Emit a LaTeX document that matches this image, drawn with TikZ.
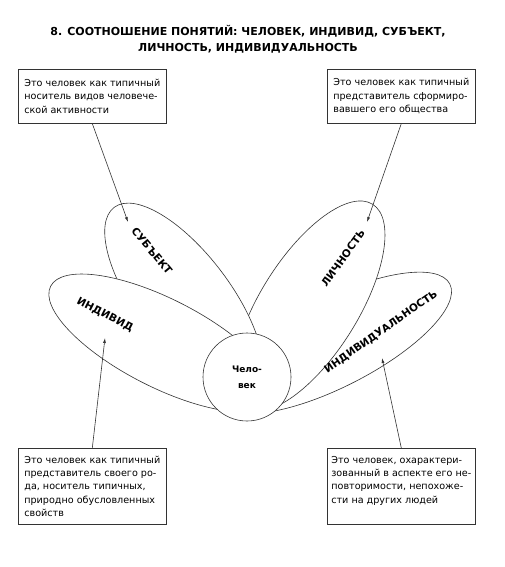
\documentclass[tikz,border=0pt]{standalone}
\usepackage{fontspec}
\setmainfont{Liberation Sans}
\newfontfamily\boxfont{DejaVu Sans}
\newfontfamily\headfont{DejaVu Sans}
\usetikzlibrary{arrows.meta,positioning}

\begin{document}
\begin{tikzpicture}[x=1pt,y=1pt,
    petal/.style={draw=black!80, fill=white, line width=0.6pt},
    petallabel/.style={font=\headfont\fontsize{10.5}{13}\selectfont\bfseries, inner sep=0pt},
    infobox/.style={draw=black!80, line width=0.6pt, fill=white, anchor=north west,
        minimum width=148pt, inner xsep=4pt, minimum height=54pt, align=left,
        font=\boxfont\fontsize{9.6}{13.4}\selectfont},
    pointer/.style={draw=black!80, line width=0.6pt, -{Latex[length=5pt,width=3pt]}}]
    \useasboundingbox (0,0) rectangle (504,-567);
    % title
    \node[font=\headfont\fontsize{11}{16}\selectfont\bfseries, align=center] (title) at (248,-39)
        {8. СООТНОШЕНИЕ ПОНЯТИЙ: ЧЕЛОВЕК, ИНДИВИД, СУБЪЕКТ,\\ЛИЧНОСТЬ, ИНДИВИДУАЛЬНОСТЬ};
    % petals, back to front
    \draw[petal, rotate around={27:(334,-343)}] (334,-343) ellipse (130pt and 44pt);
    \draw[petal, rotate around={58:(309,-306)}] (309,-306) ellipse (120pt and 49pt);
    \draw[petal, rotate around={-53:(184,-300)}] (184,-300) ellipse (116pt and 47pt);
    \draw[petal, rotate around={-27:(162,-343)}] (162,-343) ellipse (125pt and 44pt);
    \node[petal, circle, minimum size=88pt, inner sep=0pt, align=center,
        font=\headfont\fontsize{9}{16}\selectfont\bfseries] (man) at (247,-377) {Чело-\\век};
    % petal names
    \node[petallabel, rotate=-50] (subject) at (152,-251) {СУБЪЕКТ};
    \node[petallabel, rotate=-27] (individ) at (105,-315) {ИНДИВИД};
    \node[petallabel, rotate=54] (person) at (343,-258) {ЛИЧНОСТЬ};
    \node[petallabel, rotate=35] (individuality) at (381,-332) {ИНДИВИДУАЛЬНОСТЬ};
    % explanations
    \node[infobox] (box1) at (18,-69) {Это человек как типичный\\носитель видов человече-\\ской активности};
    \node[infobox] (box2) at (327,-69) {Это человек как типичный\\представитель сформиро-\\вавшего его общества};
    \node[infobox, minimum height=76pt] (box3) at (18,-448) {Это человек как типичный\\представитель своего ро-\\да, носитель типичных,\\природно обусловленных\\свойств};
    \node[infobox, minimum height=76pt] (box4) at (327,-448) {Это человек, охарактери-\\зованный в аспекте его не-\\повторимости, непохоже-\\сти на других людей\\~};
    % pointers
    \coordinate (subjtip) at (128,-222);
    \coordinate (persontip) at (367,-222);
    \coordinate (individtip) at (105,-338);
    \coordinate (indivtip) at (382,-358);
    \draw[pointer] (box1.south) -- (subjtip);
    \draw[pointer] (box2.south) -- (persontip);
    \draw[pointer] (box3.north) -- (individtip);
    \draw[pointer] (box4.north) -- (indivtip);
\end{tikzpicture}
\end{document}
